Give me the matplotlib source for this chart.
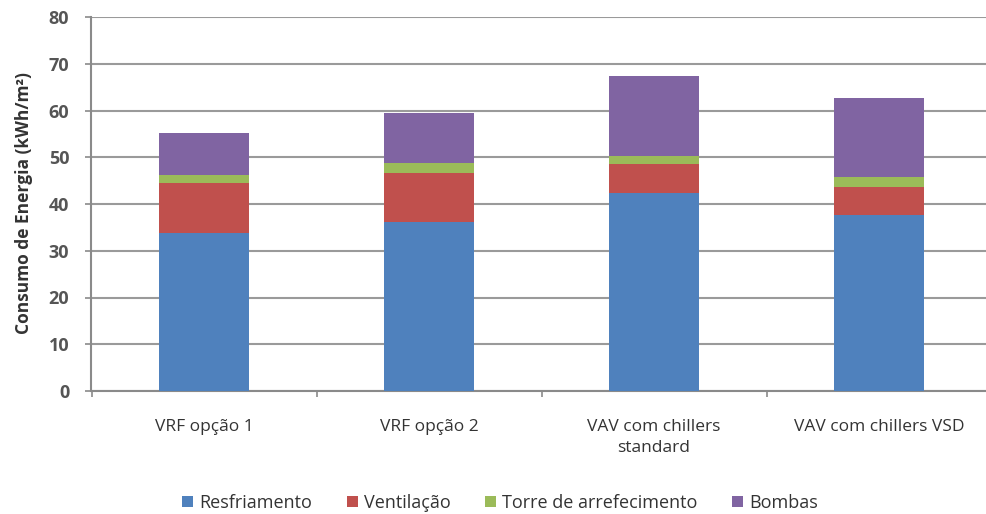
import matplotlib
matplotlib.use("Agg")
import matplotlib.pyplot as plt
import numpy as np

categories = ["VRF opção 1", "VRF opção 2", "VAV com chillers\nstandard", "VAV com chillers VSD"]
series_names = ["Resfriamento", "Ventilação", "Torre de arrefecimento", "Bombas"]
resfriamento = [33.7, 36.2, 42.3, 37.6]
ventilacao = [10.7, 10.5, 6.3, 6.1]
torre = [1.8, 2.0, 1.7, 2.0]
bombas = [9.0, 10.8, 17.1, 16.9]
colors = ["#4F81BD", "#C0504D", "#9BBB59", "#8064A2"]

plt.rcParams['font.family'] = ['Open Sans', 'DejaVu Sans']

fig = plt.figure(figsize=(9.87, 5.14), dpi=100)
W, H = 987, 514
ax = fig.add_axes([91.5 / W, 1 - 391 / H, 900 / W, (391 - 17) / H])

x = np.arange(len(categories))
bottom = np.zeros(len(categories))
handles = []
for vals, name, c in zip([resfriamento, ventilacao, torre, bombas], series_names, colors):
    b = ax.bar(x, vals, width=0.4, bottom=bottom, color=c, label=name, zorder=3)
    handles.append(b)
    bottom += np.array(vals)

ax.set_xlim(-0.5, 3.5)
ax.set_ylim(0, 80)
ax.set_yticks(np.arange(0, 81, 10))
ax.yaxis.grid(True, color="#9a9a9a", linewidth=1.5, zorder=0)
ax.set_axisbelow(True)

for s in ["top", "right"]:
    ax.spines[s].set_visible(False)
ax.spines["left"].set_color("#8a8a8a")
ax.spines["bottom"].set_color("#8a8a8a")
ax.spines["left"].set_linewidth(1.5)
ax.spines["bottom"].set_linewidth(1.5)

ax.set_xticks(x)
ax.set_xticklabels(categories, fontsize=12.5, color="#333333", linespacing=1.45)
ax.tick_params(axis="x", length=0, pad=20)
ax.set_xticks(np.arange(-0.5, 4, 1), minor=True)
ax.tick_params(axis="x", which="minor", length=4, color="#8a8a8a", width=1.2)
ax.tick_params(axis="y", length=4, color="#8a8a8a", width=1.2, labelsize=13, labelcolor="#555555", pad=12)
for lab in ax.get_yticklabels():
    lab.set_fontweight("bold")

ax.set_ylabel("Consumo de Energia (kWh/m²)", fontsize=12.5, fontweight="bold", color="#333333")
ax.yaxis.set_label_coords(33 / W, 1 - 203 / H, transform=fig.transFigure)

fig.legend(handles=handles, labels=series_names, loc="center", bbox_to_anchor=(500 / W, 1 - 503 / H),
           ncol=4, frameon=False, fontsize=13, handlelength=0.6, handleheight=0.6,
           handletextpad=0.35, columnspacing=1.9, labelcolor="#333333")

fig.savefig("out.png", dpi=100)
